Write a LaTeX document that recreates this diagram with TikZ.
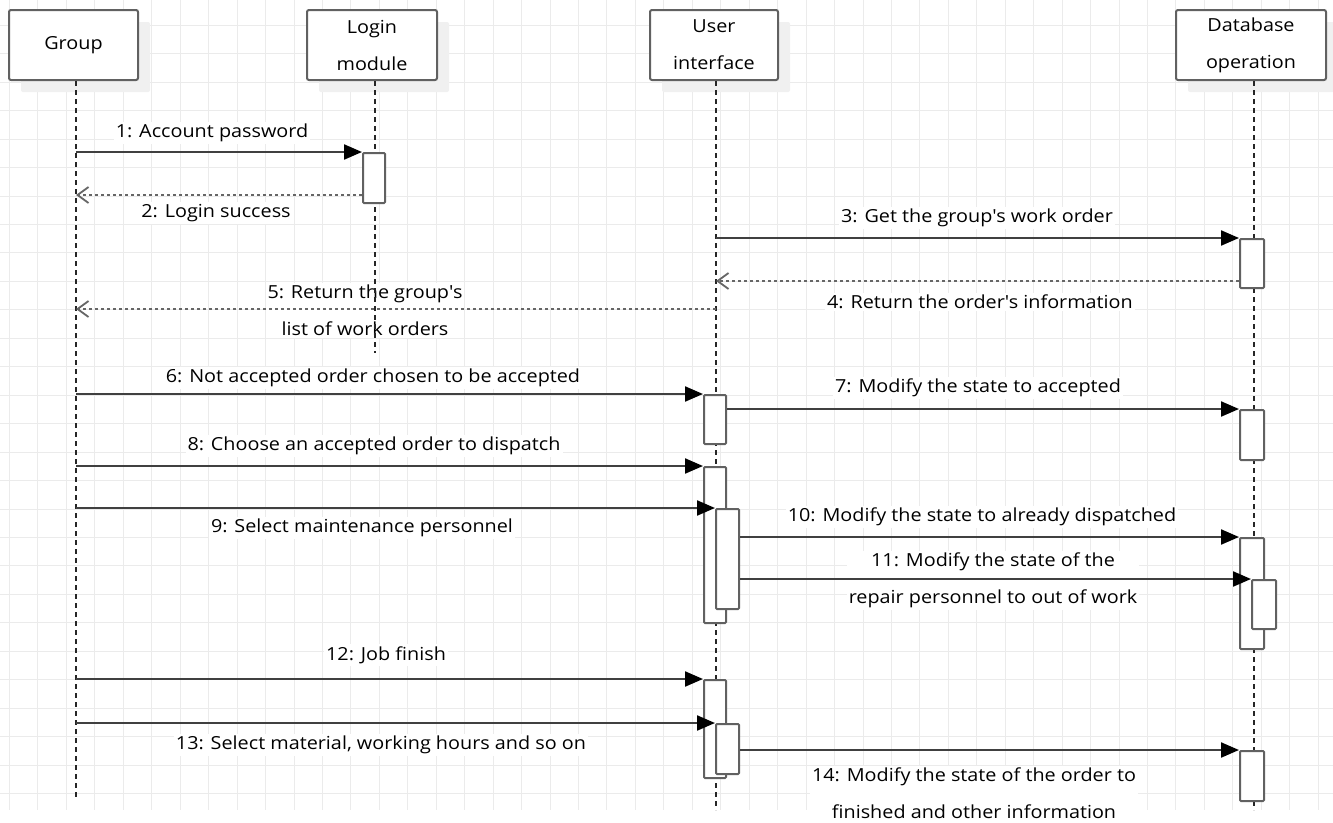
\documentclass[tikz,border=0pt]{standalone}
\usepackage{fontspec}
\setmainfont[FakeStretch=1.1]{Open Sans}
\usetikzlibrary{arrows.meta,shadows,calc}
\begin{document}
\begin{tikzpicture}[x=1pt,y=-1pt,
  font=\fontsize{18}{37}\selectfont,
  gridline/.style={draw=black!8, line width=1pt},
  head/.style={draw=black!62, line width=2pt, fill=white, rounded corners=2pt, align=center, inner sep=0pt, text=black,
    drop shadow={shadow xshift=12pt, shadow yshift=-12pt, fill=black!6, opacity=1}},
  life/.style={draw=black!85, line width=1.3pt, dash pattern=on 5pt off 4pt},
  act/.style={draw=black!62, line width=2pt, fill=white, rounded corners=1pt, minimum width=22pt, inner sep=0pt, anchor=north},
  msg/.style={draw=black!75, line width=2.2pt, -{Triangle[length=18pt,width=15pt,fill=black,color=black]}},
  ret/.style={draw=black!60, line width=1.8pt, dash pattern=on 3pt off 3pt, -{Straight Barb[length=11pt,width=16pt,line width=1.8pt]}},
  lbl/.style={fill=white, inner sep=2pt, text=black, align=center},
]
\useasboundingbox (0,0) rectangle (1333,822);
\fill[white] (0,0) rectangle (1333,822);
% grid
\foreach \k in {0,...,46} \draw[gridline] ({9.5+28.45*\k},0) -- ({9.5+28.45*\k},810);
\foreach \k in {0,...,27} \draw[gridline] (0,{25.35+28.45*\k}) -- (1333,{25.35+28.45*\k});

% labels
\node[lbl] (l1) at (212,133) {1: Account password};
\node[lbl] (l2) at (216,213) {2: Login success};
\node[lbl] (l3) at (977,218) {3: Get the group\textquotesingle s work order};
\node[lbl] (l4) at (980,302) {4: Return the order\textquotesingle s information};
\node[lbl] (l5) at (365,310.5) {5: Return the group\textquotesingle s\\list of work orders};
\node[lbl] (l6) at (373,378) {6: Not accepted order chosen to be accepted};
\node[lbl] (l7) at (978,388) {7: Modify the state to accepted};
\node[lbl] (l8) at (374,446) {8: Choose an accepted order to dispatch};
\node[lbl] (l9) at (362,528) {9: Select maintenance personnel};
\node[lbl] (l10) at (982,517) {10: Modify the state to already dispatched};
\node[lbl] (l11) at (993,580.5) {11: Modify the state of the\\repair personnel to out of work};
\node[lbl] (l12) at (386,655) {12: Job finish};
\node[lbl] (l13) at (381,745) {13: Select material, working hours and so on};
\node[lbl] (l14) at (974,793) {14: Modify the state of the order to\\finished and other information};

% heads
\node[head, minimum width=129pt, minimum height=70pt] (hG) at (73.5,45) {Group};
\node[head, minimum width=130pt, minimum height=70pt] (hL) at (372,45) {Login\\module};
\node[head, minimum width=128pt, minimum height=70pt] (hU) at (714,45) {User\\interface};
\node[head, minimum width=150pt, minimum height=70pt] (hD) at (1251,45) {Database\\operation};

% lifelines
\coordinate (eG) at (76,800);
\coordinate (eL) at (375,353);
\coordinate (eU) at (716,810);
\coordinate (eD) at (1254,810);
\draw[life] (hG.south -| eG) -- (eG);
\draw[life] (hL.south -| eL) -- (eL);
\draw[life] (hU.south -| eU) -- (eU);
\draw[life] (hD.south -| eD) -- (eD);

% activations
\node[act, minimum height=50pt] (aL1) at (374,152) {};
\node[act, minimum width=24pt, minimum height=49pt] (aD1) at (1252,238) {};
\node[act, minimum height=49pt] (aU1) at (715,394) {};
\node[act, minimum width=24pt, minimum height=50pt] (aD2) at (1252,409) {};
\node[act, minimum height=156pt] (aU2) at (715,466) {};
\node[act, minimum width=23pt, minimum height=100pt] (aU2n) at (727.5,508) {};
\node[act, minimum width=24pt, minimum height=111pt] (aD3) at (1252,537) {};
\node[act, minimum width=24pt, minimum height=49pt] (aD3n) at (1264,579) {};
\node[act, minimum height=98pt] (aU3) at (715,679) {};
\node[act, minimum width=23pt, minimum height=50pt] (aU3n) at (727.5,723) {};
\node[act, minimum width=24pt, minimum height=50pt] (aD4) at (1252,750) {};

% messages
\coordinate (g1) at (76,152);
\coordinate (r2) at (76,195);
\coordinate (u3) at (716,238);
\coordinate (r4) at (716,281);
\coordinate (u5) at (716,309);
\coordinate (g5) at (76,309);
\coordinate (g6) at (76,394);
\coordinate (g8) at (76,466);
\coordinate (g9) at (76,508);
\coordinate (g12) at (76,679);
\coordinate (g13) at (76,723);

\draw[msg] (g1) -- (aL1.north west);
\draw[ret] (aL1.west |- r2) -- (r2);
\draw[msg] (u3) -- (aD1.north west);
\draw[ret] (aD1.west |- r4) -- (r4);
\draw[ret] (u5) -- (g5);
\draw[msg] (g6) -- (aU1.north west);
\draw[msg] (aU1.east |- aD2.north west) -- (aD2.north west);
\draw[msg] (g8) -- (aU2.north west);
\draw[msg] (g9) -- (aU2n.north west);
\draw[msg] (aU2n.east |- aD3.north west) -- (aD3.north west);
\draw[msg] (aU2n.east |- aD3n.north west) -- (aD3n.north west);
\draw[msg] (g12) -- (aU3.north west);
\draw[msg] (g13) -- (aU3n.north west);
\draw[msg] (aU3n.east |- aD4.north west) -- (aD4.north west);
\end{tikzpicture}
\end{document}
